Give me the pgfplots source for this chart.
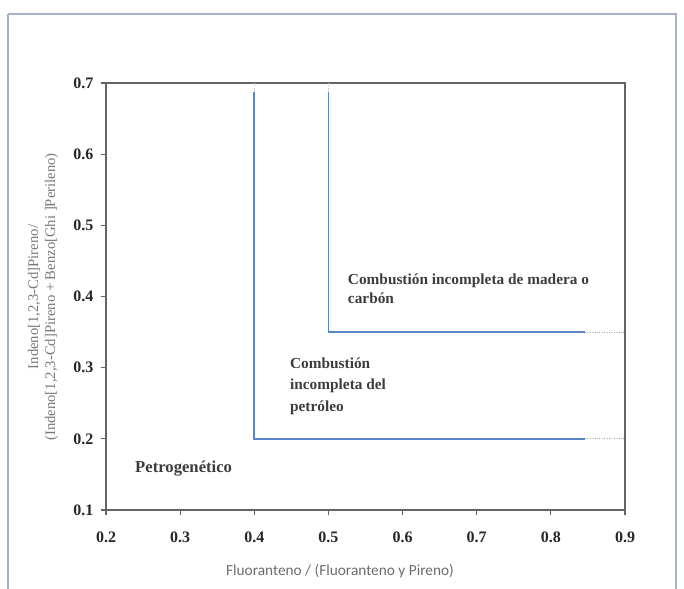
\documentclass[border=0pt]{standalone}
\usepackage{fontspec}
\setmainfont{Liberation Serif}
\newfontfamily\carlito{Carlito}
\usepackage{pgfplots}
\pgfplotsset{compat=1.18}

\definecolor{zoneblue}{RGB}{88,134,200}
\definecolor{framegray}{RGB}{165,178,200}
\definecolor{axisgray}{RGB}{100,100,100}
\definecolor{labelgray}{RGB}{120,120,120}
\definecolor{textdark}{RGB}{60,60,60}

\begin{document}
\begin{tikzpicture}[x=0.75pt,y=0.75pt]
  % page area and outer frame
  \useasboundingbox (0,0) rectangle (684,588);
  \begin{scope}
    \clip (0,0) rectangle (684,588);
    \draw[framegray, line width=1.4pt] (8,574) -- (676,574) -- (676,-10);
    \draw[framegray, line width=1.4pt] (8,574) -- (8,-10);
  \end{scope}

  \begin{axis}[
    at={(79.5pt,58.5pt)}, anchor=south west,
    scale only axis,
    width=389.25pt, height=320.25pt,
    xmin=0.2, xmax=0.9, ymin=0.1, ymax=0.7,
    xtick={0.2,0.3,...,0.9}, ytick={0.1,0.2,...,0.7},
    /pgf/number format/.cd, fixed, fixed zerofill, precision=1, assume math mode=true,
    /pgfplots/.cd,
    axis line style={axisgray, line width=1.1pt},
    tick style={axisgray, line width=0.9pt},
    tick align=outside, major tick length=4pt,
    xtick pos=bottom, ytick pos=left,
    ticklabel style={font=\bfseries\fontsize{12}{14}\selectfont, text=black!85},
    xticklabel shift=9pt,
    yticklabel shift=2pt,
    clip=false,
  ]
    % source zone boundaries
    \addplot[zoneblue, line width=1.35pt] coordinates {(0.4,0.687) (0.4,0.2) (0.846,0.2)};
    \addplot[zoneblue, line width=1.35pt] coordinates {(0.5,0.687) (0.5,0.35) (0.846,0.35)};
    % faint dotted ends of the boundaries
    \addplot[gray!60, line width=0.8pt, densely dotted] coordinates {(0.4,0.7) (0.4,0.687)};
    \addplot[gray!60, line width=0.8pt, densely dotted] coordinates {(0.5,0.7) (0.5,0.687)};
    \addplot[gray!70, line width=0.8pt, densely dotted] coordinates {(0.846,0.2) (0.9,0.2)};
    \addplot[gray!70, line width=0.8pt, densely dotted] coordinates {(0.846,0.35) (0.9,0.35)};

    % zone names
    \node[anchor=north west, align=left, inner sep=0pt, text=textdark,
          font=\bfseries\fontsize{11.5}{14.5}\selectfont]
      at (axis cs:0.526,0.432) {Combustión incompleta de madera o\\carbón};
    \node[anchor=north west, align=left, inner sep=0pt, text=textdark,
          font=\bfseries\fontsize{11.5}{16}\selectfont]
      at (axis cs:0.448,0.314) {Combustión\\incompleta del\\petróleo};
    \node[anchor=west, inner sep=0pt, text=textdark,
          font=\bfseries\fontsize{12.5}{14}\selectfont]
      at (axis cs:0.239,0.158) {Petrogenético};
  \end{axis}

  % axis titles
  \node[rotate=90, align=center, text=labelgray, font=\fontsize{11}{12.75}\selectfont]
    at (43,291) {Indeno[1,2,3-Cd]Pireno/\\(Indeno[1,2,3-Cd]Pireno + Benzo[Ghi ]Perileno)};
  \node[text=labelgray!90!black, font=\carlito\fontsize{11.5}{13}\selectfont]
    at (340,17) {Fluoranteno / (Fluoranteno y Pireno)};
\end{tikzpicture}
\end{document}
